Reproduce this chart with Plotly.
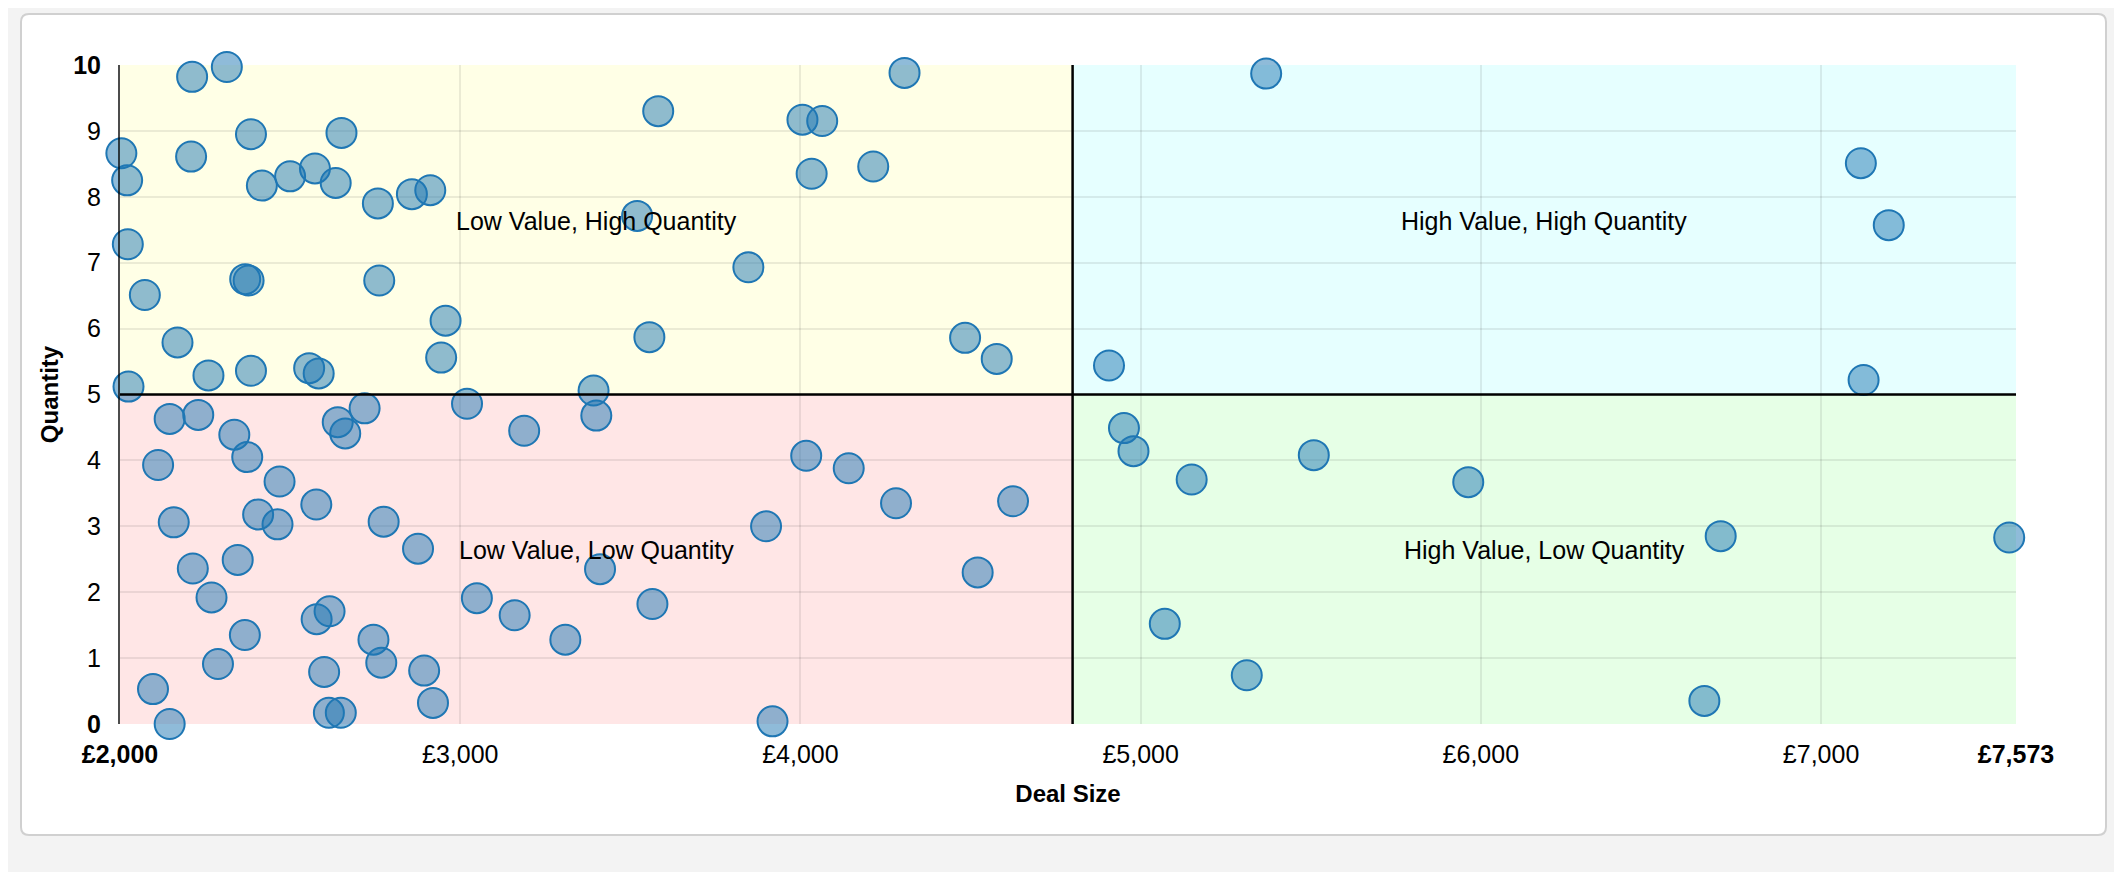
import plotly.graph_objects as go

# deal size (£) and quantity for each deal
deal_size = [
    2212, 2314, 2385, 2651, 2004, 2209, 2021, 2417, 2500, 2573,
    2634, 2758, 2858, 2912, 2023, 2368, 2378, 2762, 2073, 2957,
    2169, 2944, 2025, 2260, 2385, 2556, 2584, 3582, 4306, 4006,
    4064, 4033, 4214, 3520, 3847, 3556, 4484, 4577, 3392,
    2146, 2230, 2336, 2640, 2662, 2719, 3020, 3188, 3400, 2112,
    2374, 2469, 2577, 2158, 2406, 2463, 2775, 2876, 2214, 2346,
    2269, 2578, 2616, 2367, 2745, 2288, 2600, 2768, 2894, 2097,
    2920, 2614, 2649, 2146, 3049, 3160, 3309, 4017, 4142, 4281,
    4625, 3899, 3411, 3565, 4521, 3918,
    5369, 7117, 7199, 4907, 7125, 4951, 4979, 5150, 5509, 5963,
    6705, 7553, 5071, 5312, 6657,
]
quantity = [
    9.82, 9.97, 8.95, 8.97, 8.66, 8.61, 8.25, 8.17, 8.31, 8.43,
    8.21, 7.90, 8.04, 8.10, 7.28, 6.75, 6.73, 6.73, 6.51, 6.12,
    5.79, 5.56, 5.12, 5.29, 5.36, 5.40, 5.32, 9.30, 9.88, 9.17,
    9.15, 8.35, 8.46, 7.71, 6.93, 5.87, 5.86, 5.54, 5.06,
    4.63, 4.69, 4.39, 4.58, 4.41, 4.79, 4.86, 4.45, 4.68, 3.93,
    4.05, 3.68, 3.33, 3.06, 3.18, 3.03, 3.07, 2.66, 2.36, 2.49,
    1.92, 1.59, 1.71, 1.35, 1.28, 0.91, 0.79, 0.93, 0.81, 0.53,
    0.32, 0.17, 0.17, 0.00, 1.91, 1.65, 1.28, 4.07, 3.88, 3.35,
    3.38, 3.00, 2.35, 1.82, 2.30, 0.04,
    9.87, 8.51, 7.57, 5.44, 5.22, 4.49, 4.14, 3.71, 4.08, 3.67,
    2.85, 2.83, 1.52, 0.74, 0.35,
]

x_min, x_max = 2000, 7573
y_min, y_max = 0, 10
x_split = 4800
y_split = 5

x_ticks = [2000, 3000, 4000, 5000, 6000, 7000, 7573]
x_labels = ["<b>£2,000</b>", "£3,000", "£4,000", "£5,000", "£6,000", "£7,000", "<b>£7,573</b>"]
y_ticks = list(range(0, 11))
y_labels = ["<b>0</b>"] + [str(v) for v in range(1, 10)] + ["<b>10</b>"]

quadrants = [
    # x0, x1, y0, y1, colour, label
    (x_min, x_split, y_split, y_max, "rgb(255,255,230)", "Low Value, High Quantity"),
    (x_split, x_max, y_split, y_max, "rgb(230,255,255)", "High Value, High Quantity"),
    (x_min, x_split, y_min, y_split, "rgb(255,230,230)", "Low Value, Low Quantity"),
    (x_split, x_max, y_min, y_split, "rgb(230,255,230)", "High Value, Low Quantity"),
]

# the page puts the figure 8px in from the top-left corner
OFF = 8
W, H = 2122, 872
L, R, T, B = 120 - OFF, 2016 - OFF, 65 - OFF, 724 - OFF
FONT = "Liberation Sans, Arial, sans-serif"


def to_paper(px, py):
    return (px - OFF - L) / (R - L), (B - (py - OFF)) / (B - T)


def rounded_box(x0, y0, x1, y1, r):
    pts = [
        ("M", x0 + r, y0), ("L", x1 - r, y0), ("Q", x1, y0, x1, y0 + r),
        ("L", x1, y1 - r), ("Q", x1, y1, x1 - r, y1), ("L", x0 + r, y1),
        ("Q", x0, y1, x0, y1 - r), ("L", x0, y0 + r), ("Q", x0, y0, x0 + r, y0),
    ]
    out = []
    for p in pts:
        cmd, vals = p[0], p[1:]
        coords = []
        for i in range(0, len(vals), 2):
            a, b = to_paper(vals[i], vals[i + 1])
            coords.append(f"{a:.5f},{b:.5f}")
        out.append(cmd + " ".join(coords))
    return " ".join(out) + " Z"


fig = go.Figure()

fig.add_trace(go.Scatter(
    x=deal_size, y=quantity, mode="markers",
    marker=dict(size=30, color="rgba(31,119,180,0.5)",
                line=dict(color="rgb(31,119,180)", width=2)),
    cliponaxis=False, showlegend=False,
))

# page cards (in page pixels)
fig.add_shape(type="path", xref="paper", yref="paper", layer="below",
              path=rounded_box(40, -30, 2086, 2, 6),
              fillcolor="white", line=dict(color="#d0d0d0", width=2))
fig.add_shape(type="path", xref="paper", yref="paper", layer="below",
              path=rounded_box(21, 14, 2106, 835, 8),
              fillcolor="white", line=dict(color="#d0d0d0", width=2))

for x0, x1, y0, y1, col, label in quadrants:
    fig.add_shape(type="rect", x0=x0, x1=x1, y0=y0, y1=y1, layer="below",
                  fillcolor=col, line=dict(width=0))
    fig.add_annotation(x=(x0 + x1) / 2, y=(y0 + y1) / 2, text=label,
                       showarrow=False, yshift=9,
                       font=dict(size=25, color="black", family=FONT))

fig.add_shape(type="line", x0=x_split, x1=x_split, y0=y_min, y1=y_max,
              line=dict(color="black", width=2.5))
fig.add_shape(type="line", x0=x_min, x1=x_max, y0=y_split, y1=y_split,
              line=dict(color="black", width=2.5))

fig.update_layout(
    width=W, height=H, autosize=False,
    margin=dict(l=L, r=W - R, t=T, b=H - B, pad=0),
    paper_bgcolor="#f3f3f3", plot_bgcolor="rgba(0,0,0,0)",
    font=dict(family=FONT, size=25, color="black"),
)
fig.update_xaxes(
    range=[x_min, x_max], tickvals=x_ticks, ticktext=x_labels,
    showgrid=True, gridcolor="rgba(0,0,0,0.08)", gridwidth=2,
    zeroline=False, showline=False, ticks="", ticklabelstandoff=13,
    title=dict(text="<b>Deal Size</b>", standoff=18, font=dict(size=24)),
)
fig.update_yaxes(
    range=[y_min, y_max], tickvals=y_ticks, ticktext=y_labels,
    showgrid=True, gridcolor="rgba(0,0,0,0.08)", gridwidth=2,
    zeroline=False, showline=True, linecolor="rgba(0,0,0,0.7)", linewidth=2,
    ticks="", ticklabelstandoff=12,
    title=dict(text="<b>Quantity</b>", standoff=8, font=dict(size=24)),
)

fig.write_html("out.html")
